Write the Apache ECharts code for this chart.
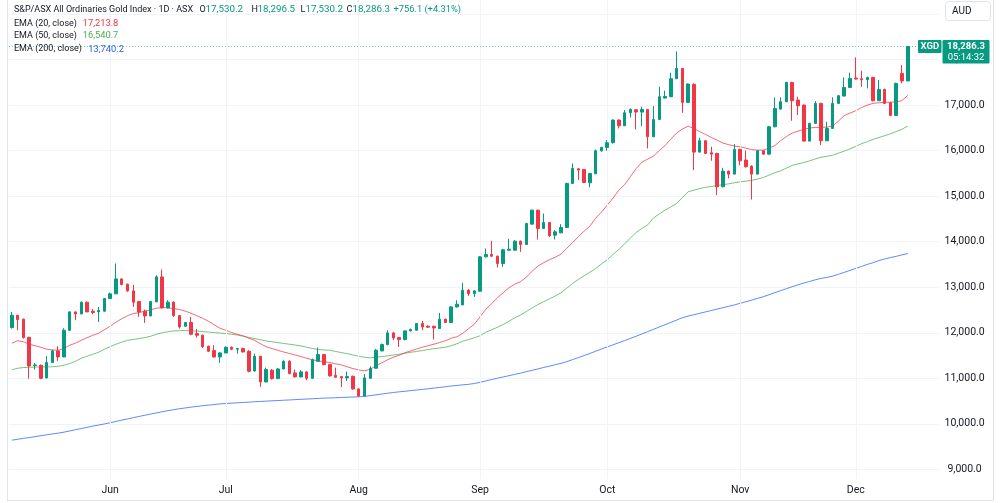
<!DOCTYPE html>
<html><head><meta charset="utf-8">
<script src="https://cdn.jsdelivr.net/npm/echarts@6/dist/echarts.min.js"></script>
<style>html,body{margin:0;padding:0;background:#fff}#c{width:1000px;height:503px}</style>
</head><body><div id="c"></div>
<script>
// ---- data (daily bars, 8 May 2025 – 12 Dec 2025) ----
const opens = [
12114,12385,12297,11901,11279,11286,11008,11345,11601,11469,
12055,12458,12414,12671,12473,12458,12473,12751,12854,13183,
13066,12920,12685,12473,12370,12678,13227,12546,12671,12378,
12143,12224,11982,11945,11704,11608,11469,11557,11682,11638,
11652,11594,11162,11484,10920,11176,10993,11205,11374,11118,
11030,11140,11000,11374,11520,11301,11066,11037,11008,11044,
10766,10612,11000,11220,11601,11740,11997,11894,11850,12041,
12055,12202,12143,12143,12092,12297,12224,12568,12612,12934,
12861,12912,13667,13718,13682,13520,13813,13813,14011,13938,
14385,14693,14290,14422,14143,14194,14312,15279,15601,15586,
15293,15491,15997,16070,16173,16671,16546,16832,16898,16847,
16905,16304,16685,17154,17184,17579,17806,17059,17455,15967,
16217,15953,15938,15205,15550,15484,16026,15792,15660,15484,
15997,15923,16524,16912,17074,17498,17110,17000,16209,16597,
17037,16217,16488,17037,17198,17388,17594,17579,17557,17608,
17096,17345,17052,16773,17696,17530.2];
const closes = [
12385,12290,11894,11271,11293,11000,11345,11601,11469,12055,
12458,12414,12671,12458,12444,12487,12751,12854,13183,13059,
12920,12671,12458,12370,12685,13227,12546,12671,12378,12128,
12224,11967,11945,11696,11594,11469,11557,11682,11638,11652,
11579,11154,11484,10920,11191,10993,11205,11374,11103,11030,
11140,11000,11410,11520,11301,11052,11022,11008,11037,10766,
10612,11008,11220,11616,11740,11997,11887,11850,12041,12070,
12202,12128,12121,12106,12297,12224,12568,12627,12934,12861,
12920,13667,13718,13682,13520,13821,13835,14011,13938,14400,
14693,14290,14422,14129,14216,14312,15279,15608,15572,15301,
15498,15997,16070,16173,16671,16546,16832,16905,16847,16905,
16304,16685,17184,17191,17579,17806,17059,17462,15967,16217,
15938,15923,15205,15550,15484,16026,15777,15645,15484,15997,
15923,16524,16927,17074,17498,17096,16986,16209,16597,17037,
16217,16488,17037,17206,17388,17586,17572,17557,17608,17096,
17345,17037,16773,17477,17530.2,18286.3];
const highs = [
12458,12390,12312,11909,11337,11301,11484,11630,11704,12099,
12473,12465,12685,12685,12524,12568,12766,12883,13520,13191,
13081,13052,12700,12510,12700,13264,13389,12715,12692,12392,
12238,12348,12085,11960,11718,11725,11579,11704,11696,11660,
11674,11616,11542,11491,11235,11205,11220,11396,11396,11191,
11176,11154,11432,11674,11535,11315,11235,11044,11147,11059,
10781,11096,11264,11645,11762,12055,12018,11900,12055,12092,
12216,12261,12165,12158,12436,12312,12583,12715,13096,12964,
12934,13682,13850,14019,13696,13843,14063,14033,14026,14414,
14707,14700,14619,14436,14253,14385,15293,15718,15608,15594,
15513,16026,16085,16231,16685,16685,16891,16927,16905,16964,
16912,16978,17403,17315,17711,18180,17813,17477,17477,16282,
16231,16085,15953,15623,15557,16143,16041,15997,15674,16011,
16011,16539,17169,17169,17513,17513,17184,17015,16612,17088,
17052,16634,17169,17220,17608,17711,18048,17755,17623,17623,
17550,17359,17066,17491,17879,18296.5];
const lows = [
12092,12055,11872,10993,11191,10978,11000,11337,11381,11462,
12041,12275,12407,12451,12407,12238,12466,12744,12850,13044,
12898,12568,12348,12216,12363,12675,12532,12539,12348,12092,
12128,11945,11894,11660,11579,11455,11337,11550,11616,11542,
11564,11132,11140,10810,10912,10971,10986,11198,11088,11022,
11022,10956,10993,11367,11286,11037,11015,10810,10942,10751,
10583,10605,10993,11213,11594,11725,11835,11689,11835,12026,
12048,12055,12106,11850,12085,12216,12216,12554,12605,12810,
12788,12905,13652,13667,13433,13447,13799,13806,13777,13931,
14378,14048,14282,14106,14048,14187,14304,15271,15352,15286,
15191,15484,15975,15997,16158,16488,16539,16729,16466,16539,
16048,16297,16678,17147,17176,17572,16832,17052,15572,15960,
15931,15777,15022,15198,15389,15477,15681,15630,14927,15477,
15909,15916,16510,16905,17066,16656,16781,16202,16202,16590,
16121,16209,16481,17030,17191,17381,17564,17403,17367,17081,
17088,17022,16759,16766,17477,17530.2];
const ema20 = [
11770,11825,11802,11748,11715,11682,11638,11622,11616,11653,
11726,11770,11835,11890,11945,11989,12066,12143,12231,12308,
12374,12422,12444,12473,12506,12539,12554,12545,12532,12510,
12473,12429,12374,12319,12253,12176,12099,12055,12005,11967,
11934,11879,11835,11759,11693,11653,11616,11578,11545,11512,
11477,11440,11407,11381,11363,11345,11319,11293,11253,11214,
11183,11165,11198,11275,11341,11407,11462,11506,11561,11600,
11642,11682,11715,11748,11785,11824,11879,11912,11989,12088,
12187,12352,12517,12638,12770,12879,12989,13066,13121,13220,
13352,13462,13539,13605,13660,13726,13857,13978,14110,14231,
14341,14517,14649,14803,14956,15132,15253,15429,15605,15748,
15814,15879,16000,16110,16253,16385,16473,16539,16484,16418,
16356,16290,16231,16165,16132,16099,16088,16055,16022,16011,
16011,16055,16110,16220,16308,16385,16429,16466,16495,16510,
16510,16517,16539,16649,16770,16824,16879,16945,17000,17038,
17051,17060,17066,17070,17101,17213.8];
const ema50 = [
11187,11220,11236,11242,11246,11249,11249,11253,11264,11286,
11323,11374,11440,11484,11528,11572,11638,11693,11748,11792,
11835,11853,11871,11895,11923,11967,12000,12022,12040,12044,
12049,12044,12038,12027,12016,12003,11994,11983,11967,11950,
11923,11897,11873,11846,11820,11802,11783,11765,11748,11730,
11710,11682,11655,11633,11622,11616,11589,11565,11541,11512,
11484,11462,11449,11462,11477,11493,11510,11528,11550,11570,
11589,11609,11631,11649,11666,11684,11715,11759,11814,11851,
11890,11934,12011,12066,12121,12180,12253,12330,12389,12466,
12543,12620,12682,12745,12807,12879,12978,13082,13170,13251,
13330,13411,13510,13603,13719,13829,13954,14077,14205,14290,
14370,14521,14609,14693,14763,14840,14967,15095,15132,15167,
15192,15214,15231,15251,15271,15293,15315,15330,15348,15374,
15411,15462,15517,15556,15616,15675,15708,15739,15774,15818,
15855,15875,15899,15945,15989,16040,16095,16152,16198,16246,
16288,16328,16370,16418,16470,16540.7];
const ema200 = [
9641,9661,9681,9698,9718,9738,9758,9777,9795,9817,
9843,9870,9896,9922,9949,9973,9997,10023,10052,10081,
10107,10135,10162,10188,10215,10239,10265,10289,10311,10331,
10349,10366,10382,10397,10410,10423,10437,10445,10454,10461,
10469,10476,10485,10491,10498,10505,10511,10518,10524,10531,
10538,10544,10551,10557,10564,10568,10573,10579,10584,10588,
10593,10601,10619,10636,10654,10671,10689,10702,10715,10729,
10742,10755,10770,10784,10799,10814,10830,10843,10856,10867,
10885,10911,10942,10972,11001,11030,11056,11087,11113,11144,
11175,11205,11238,11267,11298,11328,11366,11410,11454,11500,
11546,11594,11643,11689,11735,11781,11829,11876,11924,11974,
12025,12076,12126,12177,12227,12278,12330,12366,12396,12427,
12458,12489,12519,12550,12581,12611,12647,12682,12717,12755,
12792,12836,12880,12924,12968,13011,13053,13091,13126,13163,
13194,13216,13244,13284,13326,13370,13413,13457,13501,13539,
13585,13620,13651,13679,13710,13740.2];
const monthStartIdx = [17,37,60,81,103,126,146];
const monthLabels = ['Jun','Jul','Aug','Sep','Oct','Nov','Dec'];
const asxHolidays = ['2025-06-09'];
const firstDay = '2025-05-08';
const titleText = 'S&P/ASX All Ordinaries Gold Index · 1D · ASX';
const ticker = 'XGD';
const currency = 'AUD';
const countdown = '05:14:32';

// ---- categories: trading days ----
const dates = [];
{
  const d = new Date(firstDay + 'T00:00:00Z');
  while (dates.length < closes.length) {
    const wd = d.getUTCDay(); const s = d.toISOString().slice(0,10);
    if (wd !== 0 && wd !== 6 && !asxHolidays.includes(s)) dates.push(s);
    d.setUTCDate(d.getUTCDate() + 1);
  }
}
const cats = dates.concat(['_p1','_p2','_p3','_p4','_p5']);

const FONT = 'Roboto, "Liberation Sans", Arial, sans-serif';
const UP = '#089981', DOWN = '#F23645', TXT = '#131722', GRID = '#f0f3fa';
const fmt = v => v.toLocaleString('en-US', {minimumFractionDigits:1, maximumFractionDigits:1});
const last = closes.length - 1;
const candleData = opens.map((o,i) => [o, closes[i], lows[i], highs[i]]);

const chart = echarts.init(document.getElementById('c'), null, {renderer:'canvas'});
chart.setOption({
  animation:false,
  backgroundColor:'#fff',
  grid:{left:9, right:60.4, top:0, bottom:24},
  xAxis:{
    type:'category', data:cats, boundaryGap:true,
    axisLine:{show:false}, axisTick:{show:false}, splitLine:{show:false},
    axisLabel:{
      interval:(i)=>monthStartIdx.includes(i),
      formatter:(v,i)=>{const k=monthStartIdx.indexOf(i); return k>=0?monthLabels[k]:'';},
      color:TXT, fontSize:10.5, fontFamily:FONT, margin:6
    }
  },
  yAxis:{
    type:'value', position:'right', min:8788, max:19308,
    minInterval:1000, maxInterval:1000, splitNumber:10,
    axisLine:{show:false}, axisTick:{show:false},
    axisLabel:{
      formatter:v=>(Math.abs(v % 1000) < 1e-6 ? fmt(v) : ''),
      color:TXT, fontSize:10.5, fontFamily:FONT, align:'center', margin:25,
      showMinLabel:false, showMaxLabel:false
    },
    splitLine:{lineStyle:{color:GRID, width:1}, showMinLine:false, showMaxLine:false}
  },
  series:[
    {type:'line', data:closes.map(()=>null), silent:true, z:1, symbol:'none',
     markLine:{silent:true, symbol:'none', label:{show:false}, animation:false,
       lineStyle:{color:GRID, type:'solid', width:1},
       data:monthStartIdx.map(i=>({xAxis:cats[i]}))}},
    {name:'EMA200', type:'line', data:ema200, symbol:'none', silent:true, z:3,
     lineStyle:{color:'#2962FF', width:1, opacity:0.75}},
    {name:'EMA50', type:'line', data:ema50, symbol:'none', silent:true, z:3,
     lineStyle:{color:'#4CAF50', width:1, opacity:0.75}},
    {name:'EMA20', type:'line', data:ema20, symbol:'none', silent:true, z:3,
     lineStyle:{color:'#F23645', width:1, opacity:0.75}},
    {type:'candlestick', data:candleData, barWidth:3, z:5, clip:false,
     itemStyle:{color:UP, color0:DOWN, borderColor:UP, borderColor0:DOWN, borderWidth:1},
     markLine:{silent:true, symbol:'none', label:{show:false}, animation:false,
       lineStyle:{color:UP, type:[1,2], width:1, opacity:0.55},
       data:[{yAxis:closes[last]}]}}
  ]
});

const yPix = chart.convertToPixel({yAxisIndex:0}, closes[last]);
const chg = closes[last] - closes[last-1];
const pct = chg / closes[last-1] * 100;
const sign = chg >= 0 ? '+' : '';
const F1 = '9px ' + FONT, FV = '9.8px ' + FONT;
function txt(x, y, text, fill, font, align) {
  return {type:'text', x:x, y:y, z:100, silent:true,
    style:{text:text, font:font||F1, fill:fill||TXT, align:align||'left', verticalAlign:'middle',
      textAlign:align||'left', textVerticalAlign:'middle'}};
}
chart.setOption({graphic:[
  // frame
  {type:'line', z:90, silent:true, shape:{x1:7.5,y1:0,x2:7.5,y2:500.5}, style:{stroke:'#e0e3eb', lineWidth:1}},
  {type:'line', z:90, silent:true, shape:{x1:7,y1:500.5,x2:993,y2:500.5}, style:{stroke:'#e0e3eb', lineWidth:1}},
  {type:'line', z:90, silent:true, shape:{x1:993.5,y1:0,x2:993.5,y2:501}, style:{stroke:'#e0e3eb', lineWidth:1}},
  // header line
  txt(14, 10, titleText),
  txt(199.5, 10, 'O'), txt(205.5, 10, fmt(opens[last]), UP, FV),
  txt(251.5, 10, 'H'), txt(257.5, 10, fmt(highs[last]), UP, FV),
  txt(300.5, 10, 'L'), txt(305.5, 10, fmt(lows[last]), UP, FV),
  txt(346.5, 10, 'C'), txt(352.5, 10, fmt(closes[last]), UP, FV),
  txt(393.5, 10, sign + fmt(chg) + ' (' + sign + pct.toFixed(2) + '%)', UP, '9.3px ' + FONT),
  // indicator lines
  txt(14, 23.3, 'EMA (20, close)'), txt(82.7, 23.3, fmt(ema20[last]), '#F23645', '9.3px ' + FONT),
  txt(14, 35.8, 'EMA (50, close)'), txt(82.7, 35.8, fmt(ema50[last]), '#4CAF50', '9.3px ' + FONT),
  txt(14, 49.2, 'EMA (200, close)'), txt(88.3, 49.2, fmt(ema200[last]), '#2962FF', '9.3px ' + FONT),
  // currency button
  {type:'rect', z:100, silent:true, shape:{x:945.5,y:1.5,width:45,height:19,r:3},
   style:{fill:'#fff', stroke:'#e0e3eb', lineWidth:1}},
  txt(952, 11.5, currency, TXT, '10px ' + FONT),
  // last price labels
  {type:'rect', z:100, silent:true, shape:{x:918, y:yPix-6.5, width:23.5, height:13, r:1}, style:{fill:UP}},
  txt(929.8, yPix, ticker, '#fff', 'bold 9.5px ' + FONT, 'center'),
  {type:'rect', z:100, silent:true, shape:{x:942.5, y:yPix-6.5, width:47, height:23.5, r:1}, style:{fill:UP}},
  txt(966, yPix, fmt(closes[last]), '#fff', 'bold 9.5px ' + FONT, 'center'),
  txt(966, yPix+11, countdown, '#fff', '9.5px ' + FONT, 'center')
]});
</script>
</body></html>
